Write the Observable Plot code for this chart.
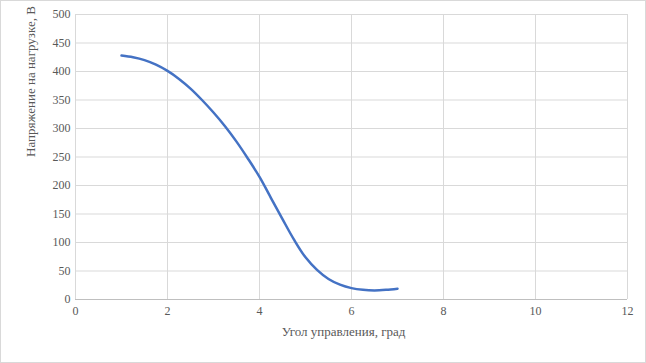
<!DOCTYPE html>
<html>
<head>
<meta charset="utf-8">
<script src="https://cdn.jsdelivr.net/npm/d3@7"></script>
<script src="https://cdn.jsdelivr.net/npm/@observablehq/plot@0.6"></script>
<style>
  html, body { margin: 0; padding: 0; background: #fff; }
  #chart svg { display: block; outline: 1px solid #d9d9d9; outline-offset: -1px; }
</style>
</head>
<body>
<div id="chart"></div>
<script>
const angle = [1, 1.25, 1.5, 1.75, 2, 2.25, 2.5, 2.75, 3, 3.25, 3.5, 3.75, 4, 4.25, 4.5, 4.75, 5, 5.25, 5.5, 5.75, 6, 6.25, 6.5, 6.75, 7];
const voltage = [428, 425, 420, 412, 401, 387, 370, 350, 328, 304, 277, 247, 215, 178, 141, 105, 74, 52, 36, 26, 20, 17, 16, 17, 19];
const xTicks = [0, 2, 4, 6, 8, 10, 12];
const yTicks = [0, 50, 100, 150, 200, 250, 300, 350, 400, 450, 500];
const xTitle = "Угол управления, град";
const yTitle = "Напряжение на нагрузке, В";

const data = angle.map((a, i) => ({angle: a, voltage: voltage[i]}));

const chart = Plot.plot({
  width: 646,
  height: 363,
  marginLeft: 75,
  marginRight: 19,
  marginTop: 14,
  marginBottom: 64,
  style: {fontFamily: "Liberation Serif", fontSize: "11px", color: "#595959", background: "#fff"},
  x: {domain: [0, 12]},
  y: {domain: [0, 500]},
  marks: [
    Plot.gridX(xTicks, {stroke: "#d9d9d9", strokeOpacity: 1}),
    Plot.gridY(yTicks, {stroke: "#d9d9d9", strokeOpacity: 1}),
    Plot.ruleY([0], {stroke: "#bfbfbf"}),
    Plot.axisX(xTicks, {tickSize: 0, tickPadding: 7, label: null, fontSize: 12}),
    Plot.axisY(yTicks, {tickSize: 0, tickPadding: 5, label: null, fontSize: 12}),
    Plot.text([xTitle], {frameAnchor: "bottom", dx: -8, dy: 36, text: d => d, fontSize: 13}),
    Plot.text([yTitle], {frameAnchor: "left", dx: -45, rotate: -90, text: d => d, fontSize: 13}),
    Plot.line(data, {x: "angle", y: "voltage", stroke: "#4472c4", strokeWidth: 2.5, curve: "catmull-rom"})
  ]
});
document.getElementById("chart").appendChild(chart);
</script>
</body>
</html>
